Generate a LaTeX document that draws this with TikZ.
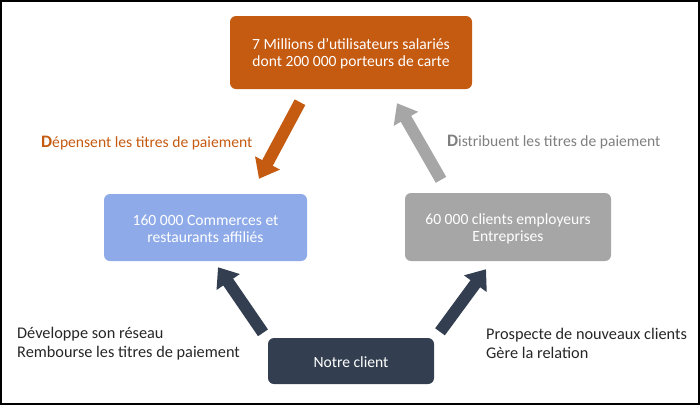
\documentclass[tikz,border=0pt]{standalone}
\usepackage{fontspec}
\setmainfont{Carlito}
\usetikzlibrary{arrows.meta,positioning}
\definecolor{rouille}{HTML}{C55A11}
\definecolor{bleuclair}{HTML}{8EAAE8}
\definecolor{grismoyen}{HTML}{A6A6A6}
\definecolor{marine}{HTML}{333F50}
\definecolor{gristexte}{HTML}{7F7F7F}
\definecolor{noirdoux}{HTML}{262626}
\tikzstyle{acteur} = [rounded corners=6pt,text=white,align=center,inner sep=0,font=\fontsize{15.6}{17}\selectfont]
\tikzstyle{fleche} = [line width=12pt,-{Triangle[width=27pt,length=18pt]}]
\tikzstyle{legende} = [align=left,anchor=west,inner sep=0,font=\fontsize{15.6}{19}\selectfont]
\def \bord {2pt}

\begin{document}
\begin{tikzpicture}[x=1pt,y=-1pt]
  \useasboundingbox (0,0) rectangle (700,405);
  \draw[line width=\bord] (1,1) rectangle (699,404);
  \node[acteur,fill=rouille,minimum width=242pt,minimum height=73pt] (porteurs) at (351,52.5)
    {\rule{0pt}{14pt}7 Millions d’utilisateurs salariés\\dont 200 000 porteurs de carte};
  \node[acteur,fill=bleuclair,minimum width=203pt,minimum height=67pt] (commerces) at (205.5,227.5)
    {\rule{0pt}{14pt}160 000 Commerces et\\restaurants affiliés};
  \node[acteur,fill=grismoyen,minimum width=206pt,minimum height=68pt] (employeurs) at (508,227)
    {\rule{0pt}{14pt}60 000 clients employeurs\\Entreprises};
  \node[acteur,fill=marine,minimum width=166pt,minimum height=46pt] (client) at (351,361) {\rule{0pt}{14pt}Notre client};
  % fleches du cycle
  \draw[fleche,rouille] ([xshift=-51pt,yshift=-13pt]porteurs.south) -- ([xshift=53.5pt,yshift=15pt]commerces.north);
  \draw[fleche,grismoyen] ([xshift=-67pt,yshift=13pt]employeurs.north) -- ([xshift=46pt,yshift=-14pt]porteurs.south);
  \draw[fleche,marine] ([xshift=-88pt,yshift=5pt]client.north) -- ([xshift=12.5pt,yshift=-6pt]commerces.south);
  \draw[fleche,marine] ([xshift=89pt,yshift=6pt]client.north) -- ([xshift=-22pt,yshift=-8pt]employeurs.south);
  % legendes
  \node[legende,text=rouille] (depensent) at (41,143)
    {{\fontsize{17.5}{17}\selectfont\bfseries D}épensent les titres de paiement};
  \node[legende,text=gristexte] (distribuent) at (447,142)
    {{\fontsize{17.5}{17}\selectfont\bfseries D}istribuent les titres de paiement};
  \node[legende,text=noirdoux,font=\fontsize{16.3}{19}\selectfont] (reseau) at (17,343.5)
    {Développe son réseau\\Rembourse les titres de paiement};
  \node[legende,text=noirdoux,font=\fontsize{16.3}{19}\selectfont] (relation) at (486,343.5)
    {Prospecte de nouveaux clients\\Gère la relation};
\end{tikzpicture}
\end{document}
